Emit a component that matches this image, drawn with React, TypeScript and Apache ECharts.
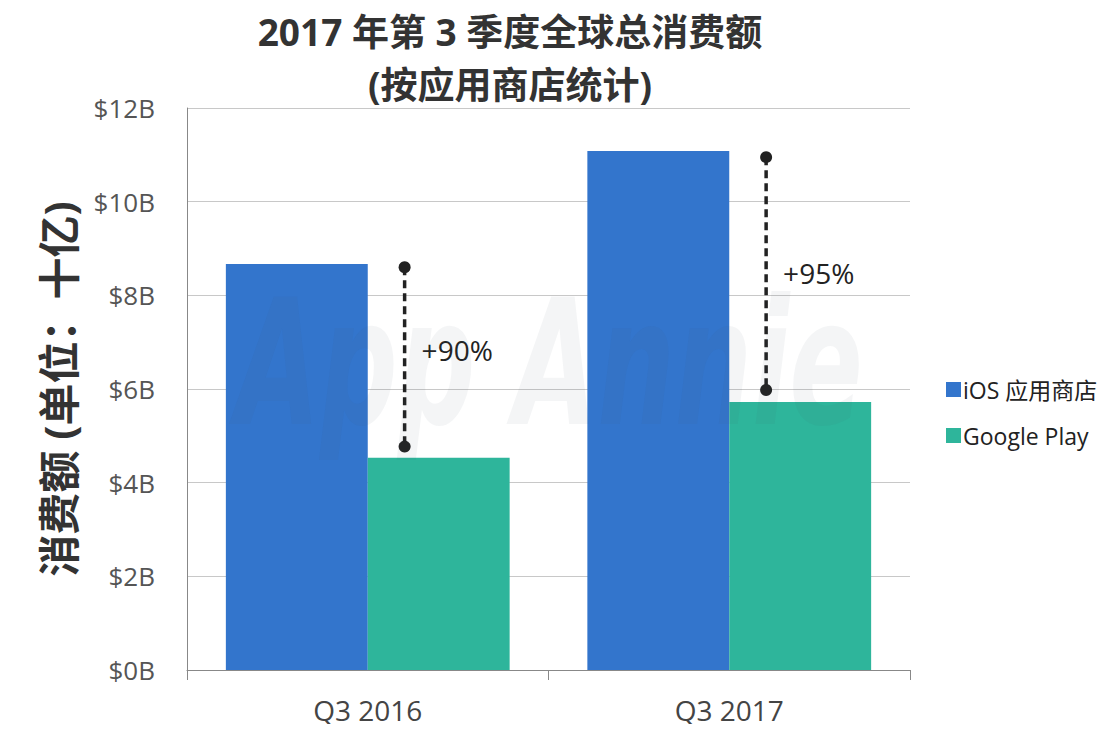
import React, { useEffect, useRef } from "react";
import * as echarts from "echarts";

const categories = ["Q3 2016", "Q3 2017"];
const iosValues = [8.67, 11.08];
const gpValues = [4.53, 5.72];
const gapTop = [8.6, 10.95];
const gapBottom = [4.77, 5.98];
const gapLabels = ["+90%", "+95%"];
const gapLabelValues = [6.83, 8.48];
const yTicks = ["$0B", "$2B", "$4B", "$6B", "$8B", "$10B", "$12B"];

const FONT = "'Open Sans', 'Noto Sans CJK SC', sans-serif";

export default function App() {
  const ref = useRef<HTMLDivElement>(null);
  useEffect(() => {
    if (!ref.current) return;
    const chart = echarts.init(ref.current, null, { renderer: "svg" });
    const gapData = categories.map((_, i) => [i, gapTop[i], gapBottom[i], gapLabelValues[i]]);
    chart.setOption({
      animation: false,
      backgroundColor: "#ffffff",
      textStyle: { fontFamily: FONT },
      title: {
        text: "2017 年第 3 季度全球总消费额\n(按应用商店统计)",
        left: 510,
        textAlign: "center",
        top: 5,
        padding: 0,
        textStyle: {
          fontSize: 37,
          fontWeight: "bold",
          color: "#333333",
          lineHeight: 53,
          fontFamily: FONT,
        },
      },
      legend: {
        orient: "vertical",
        left: 941,
        top: 373,
        icon: "rect",
        itemWidth: 15,
        itemHeight: 15,
        itemGap: 23,
        textStyle: { fontSize: 23, color: "#222222", fontFamily: FONT, padding: [0, 0, 0, -3] },
        data: ["iOS 应用商店", "Google Play"],
      },
      grid: { left: 187, right: 210, top: 108, bottom: 62, containLabel: false },
      xAxis: {
        type: "category",
        data: categories,
        axisLine: { lineStyle: { color: "#888888", width: 1 } },
        axisTick: { show: true, length: 10, lineStyle: { color: "#888888" } },
        axisLabel: { fontSize: 28, color: "#444444", margin: 26, fontFamily: FONT },
      },
      yAxis: {
        type: "value",
        min: 0,
        max: 12,
        interval: 2,
        name: "消费额 (单位：十亿)",
        nameLocation: "middle",
        nameRotate: 90,
        nameGap: 108,
        nameTextStyle: { fontSize: 42, fontWeight: "bold", color: "#333333", fontFamily: FONT },
        axisLine: { show: true, lineStyle: { color: "#888888", width: 1 } },
        axisTick: { show: false },
        splitLine: { lineStyle: { color: "#c8c8c8", width: 1 } },
        axisLabel: {
          fontSize: 26,
          color: "#555555",
          margin: 32,
          fontFamily: FONT,
          formatter: (v: number) => yTicks[Math.round(v / 2)],
        },
      },
      series: [
        {
          name: "iOS 应用商店",
          type: "bar",
          data: iosValues,
          barGap: "0%",
          barCategoryGap: "21.5%",
          itemStyle: { color: "#3375CC" },
        },
        {
          name: "Google Play",
          type: "bar",
          data: gpValues,
          barGap: "0%",
          barCategoryGap: "21.5%",
          itemStyle: { color: "#2EB59B" },
        },
        {
          type: "custom",
          data: gapData,
          z: 10,
          renderItem: (params: any, api: any) => {
            const idx = api.value(0);
            const band = api.size([1, 0])[0];
            const off = band * 0.102;
            const top = api.coord([idx, api.value(1)]);
            const bot = api.coord([idx, api.value(2)]);
            const lab = api.coord([idx, api.value(3)]);
            const x = top[0] + off;
            return {
              type: "group",
              children: [
                {
                  type: "line",
                  shape: { x1: x, y1: top[1], x2: x, y2: bot[1] },
                  style: { stroke: "#222222", lineWidth: 3.5, lineDash: [8, 5] },
                },
                { type: "circle", shape: { cx: x, cy: top[1], r: 6 }, style: { fill: "#222222" } },
                { type: "circle", shape: { cx: x, cy: bot[1], r: 6 }, style: { fill: "#222222" } },
                {
                  type: "text",
                  x: x + 17,
                  y: lab[1],
                  style: {
                    text: gapLabels[params.dataIndex],
                    fontSize: 28,
                    fill: "#222222",
                    fontFamily: FONT,
                    verticalAlign: "middle",
                    align: "left",
                  },
                },
              ],
            };
          },
        },
      ],
      graphic: [
        {
          type: "text",
          left: 236,
          top: 275,
          z: 100,
          silent: true,
          scaleX: 0.69,
          style: {
            text: "App Annie",
            fontSize: 175,
            fontStyle: "italic",
            fontWeight: "bold",
            fontFamily: "'DejaVu Sans Condensed', 'Liberation Sans Narrow', sans-serif",
            fill: "rgba(70, 80, 100, 0.06)",
          },
        },
      ],
    });
    return () => chart.dispose();
  }, []);
  return <div ref={ref} style={{ width: 1120, height: 732, margin: -8 }} />;
}
